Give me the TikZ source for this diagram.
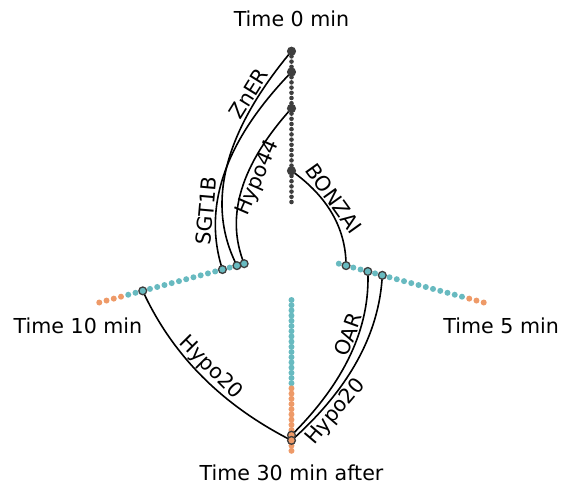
\documentclass[tikz,border=0pt]{standalone}
\usepackage{fontspec}
\setmainfont{DejaVu Sans}
\usetikzlibrary{calc}

\definecolor{hivegray}{RGB}{62,62,62}
\definecolor{hiveteal}{RGB}{104,186,192}
\definecolor{hiveorange}{RGB}{238,154,104}

\begin{document}
\begin{tikzpicture}[x=0.5pt, y=0.5pt,
    every node/.style={font=\fontsize{10.3}{12}\selectfont},
    topdot/.style={circle, fill=hivegray, inner sep=0pt, minimum size=2.3pt},
    topbig/.style={circle, fill=hivegray, inner sep=0pt, minimum size=4.6pt},
    axdot/.style={circle, fill=#1, inner sep=0pt, minimum size=3pt},
    hitdot/.style={circle, draw=hivegray, fill=#1, line width=0.65pt, inner sep=0pt, minimum size=3.9pt},
    link/.style={line width=0.8pt},
    linklabel/.style={sloped, inner sep=0.6pt}]

  \useasboundingbox (-291.5,-237) rectangle (270.5,251);

  \foreach \k in {0, ..., 29}
    \node[topdot] (t\k) at (90:{49 + 5.2*\k}) {};
  \foreach \k in {0, ..., 16}
    \node[axdot=hiveteal] (l\k) at (195:{49 + 7.5*\k}) {};
  \foreach \k in {17, ..., 20}
    \node[axdot=hiveorange] (l\k) at (195:{49 + 7.5*\k}) {};
  \foreach \k in {0, ..., 17}
    \node[axdot=hiveteal] (r\k) at (345:{49 + 7.5*\k}) {};
  \foreach \k in {18, ..., 20}
    \node[axdot=hiveorange] (r\k) at (345:{49 + 7.5*\k}) {};
  \foreach \k in {0, ..., 16}
    \node[axdot=hiveteal] (b\k) at (270:{49 + 5.2*\k}) {};
  \foreach \k in {17, ..., 29}
    \node[axdot=hiveorange] (b\k) at (270:{49 + 5.2*\k}) {};

  \coordinate (cZnER) at (142.5:128.2);
  \coordinate (cSGT) at (142.5:125.3);
  \coordinate (cHypoA) at (142.5:95.8);
  \coordinate (cBONZAI) at (37.5:68.4);
  \coordinate (cHypoB) at (232.5:171.7);
  \coordinate (cOAR) at (307.5:131.6);
  \coordinate (cHypoC) at (307.5:141.7);

  \draw[link] (t29.center) .. controls ($(t29)!2/3!(cZnER)$) and ($(l1)!2/3!(cZnER)$) .. (l1.center)
    node[linklabel, above, pos=0.2] {ZnER};
  \draw[link] (t25.center) .. controls ($(t25)!2/3!(cSGT)$) and ($(l3)!2/3!(cSGT)$) .. (l3.center)
    node[linklabel, above, pos=0.7] {SGT1B};
  \draw[link] (t18.center) .. controls ($(t18)!2/3!(cHypoA)$) and ($(l0)!2/3!(cHypoA)$) .. (l0.center)
    node[linklabel, below, pos=0.4] {Hypo44};
  \draw[link] (t6.center) .. controls ($(t6)!2/3!(cBONZAI)$) and ($(r1)!2/3!(cBONZAI)$) .. (r1.center)
    node[linklabel, above, pos=0.4] {BONZAI};
  \draw[link] (l14.center) .. controls ($(l14)!2/3!(cHypoB)$) and ($(b27)!2/3!(cHypoB)$) .. (b27.center)
    node[linklabel, above, pos=0.5] {Hypo20};
  \draw[link] (r4.center) .. controls ($(r4)!2/3!(cOAR)$) and ($(b26)!2/3!(cOAR)$) .. (b26.center)
    node[linklabel, above, pos=0.4] {OAR};
  \draw[link] (r6.center) .. controls ($(r6)!2/3!(cHypoC)$) and ($(b27)!2/3!(cHypoC)$) .. (b27.center)
    node[linklabel, below, pos=0.77] {Hypo20};

  \foreach \k in {6, 18, 25, 29}
    \node[topbig] (tb\k) at (t\k) {};
  \foreach \k in {0, 1, 3, 14}
    \node[hitdot=hiveteal] (lh\k) at (l\k) {};
  \foreach \k in {1, 4, 6}
    \node[hitdot=hiveteal] (rh\k) at (r\k) {};
  \foreach \k in {26, 27}
    \node[hitdot=hiveorange] (bh\k) at (b\k) {};

  \node[anchor=base] (time0) at (0,225) {Time 0 min};
  \node[anchor=base] (time10) at (-213.5,-82.3) {Time 10 min};
  \node[anchor=base] (time5) at (209.7,-82.3) {Time 5 min};
  \node[anchor=base] (time30) at (0,-229.7) {Time 30 min after};
\end{tikzpicture}
\end{document}
